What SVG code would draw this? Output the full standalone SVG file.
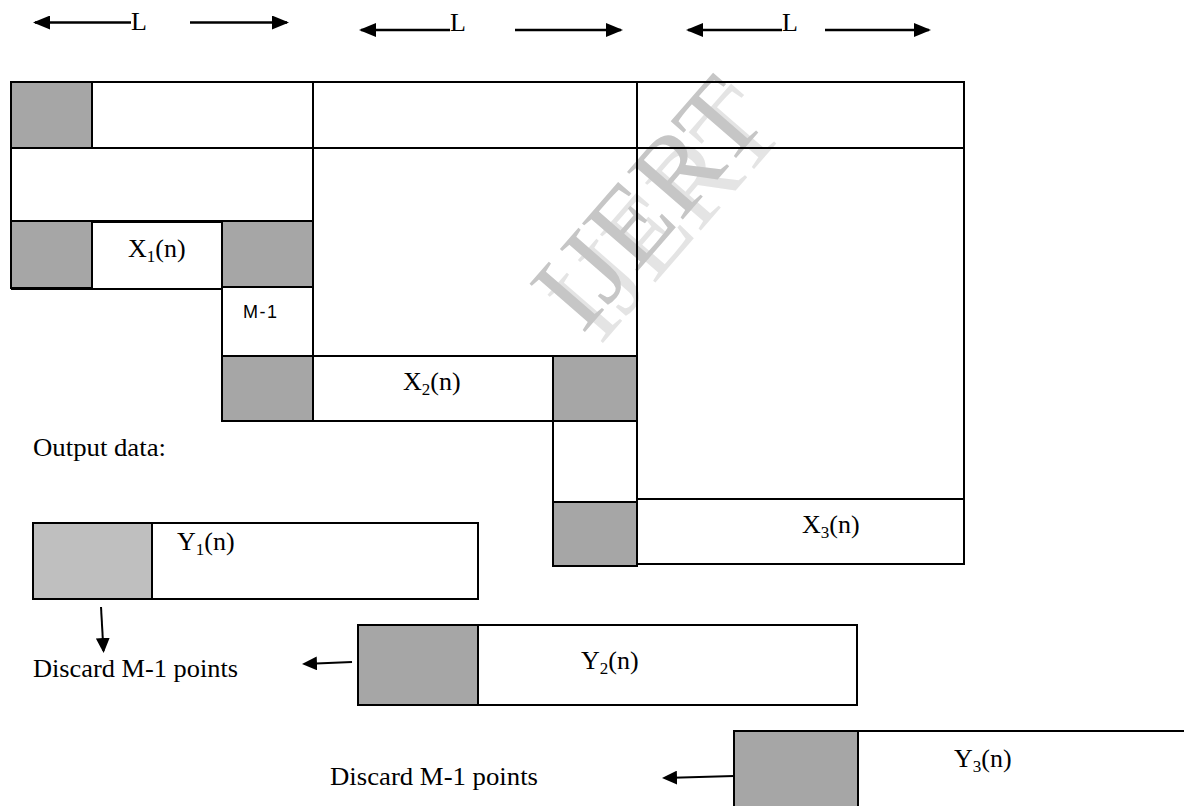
<svg xmlns="http://www.w3.org/2000/svg" width="1184" height="806" viewBox="0 0 1184 806">
<defs>
<marker id="ah" markerUnits="userSpaceOnUse" markerWidth="17" markerHeight="14" refX="15" refY="7" orient="auto"><path d="M0,0 L17,7 L0,14 Z" fill="#000"/></marker>
<marker id="ahs" markerUnits="userSpaceOnUse" markerWidth="15" markerHeight="14" refX="13" refY="7" orient="auto"><path d="M0,0 L15,7 L0,14 Z" fill="#000"/></marker>
</defs>
<style>
.ln{stroke:#000;stroke-width:2;fill:none}
.w{fill:none;stroke:#000;stroke-width:2}
.g{fill:#a6a6a6;stroke:#000;stroke-width:2}
.gl{fill:#bfbfbf;stroke:#000;stroke-width:2}
.ar{stroke:#000;stroke-width:2.5;fill:none}
.ars{stroke:#000;stroke-width:2;fill:none}
.t{font-family:"Liberation Serif","Times New Roman",serif;font-size:26px;fill:#000}
.sub{font-size:17px}
.s{font-family:"Liberation Sans",Arial,sans-serif;font-size:18px;fill:#000;letter-spacing:1.5px}
.wm{font-family:"Liberation Serif","Times New Roman",serif;font-size:112px}
</style>
<rect x="0" y="0" width="1184" height="806" fill="#fff"/>

<g id="watermark">
<text class="wm" transform="translate(666,214) rotate(-49)" x="0" y="37" text-anchor="middle" fill="#e4e4e4">IJERT</text>
<text class="wm" transform="translate(648,203) rotate(-49)" x="0" y="37" text-anchor="middle" fill="#c6c6c6">IJERT</text>
</g>

<g id="length-labels">
<text class="t" x="131" y="30">L</text>
<text class="t" x="450" y="31">L</text>
<text class="t" x="782" y="31">L</text>
</g>

<g id="top-row">
<rect class="w" x="11" y="82" width="953" height="66"/>
<rect class="g" x="11" y="82" width="81" height="66"/>
</g>

<g id="block-x1">
<line class="ln" x1="11" y1="148" x2="11" y2="289"/>
<line class="ln" x1="11" y1="221" x2="313" y2="221"/>
<rect class="g" x="11" y="221" width="81" height="67"/>
<rect class="w" x="92" y="222" width="130" height="67"/>
<rect class="g" x="222" y="221" width="91" height="66"/>
<line class="ln" x1="11" y1="289" x2="222" y2="289"/>
<text class="t" x="128" y="257">X<tspan class="sub" dy="5">1</tspan><tspan dy="-5">(n)</tspan></text>
</g>

<g id="block-m1">
<rect class="w" x="222" y="287" width="91" height="69"/>
<text class="s" x="243" y="318">M-1</text>
</g>

<g id="block-x2">
<line class="ln" x1="313" y1="82" x2="313" y2="421"/>
<line class="ln" x1="222" y1="356" x2="637" y2="356"/>
<rect class="g" x="222" y="356" width="91" height="65"/>
<rect class="w" x="313" y="356" width="240" height="65"/>
<rect class="g" x="553" y="356" width="84" height="65"/>
<line class="ln" x1="222" y1="421" x2="553" y2="421"/>
<text class="t" x="403" y="390">X<tspan class="sub" dy="5">2</tspan><tspan dy="-5">(n)</tspan></text>
</g>

<g id="block-gap">
<rect class="w" x="553" y="421" width="84" height="81"/>
</g>

<g id="block-x3">
<line class="ln" x1="637" y1="82" x2="637" y2="566"/>
<line class="ln" x1="964" y1="82" x2="964" y2="564"/>
<line class="ln" x1="637" y1="499" x2="964" y2="499"/>
<rect class="g" x="553" y="502" width="84" height="64"/>
<rect class="w" x="637" y="499" width="327" height="65"/>
<text class="t" x="802" y="533">X<tspan class="sub" dy="5">3</tspan><tspan dy="-5">(n)</tspan></text>
</g>

<g id="output-label">
<text class="t" x="33" y="456" textLength="133" lengthAdjust="spacingAndGlyphs">Output data:</text>
</g>

<g id="block-y1">
<rect class="w" x="33" y="523" width="445" height="76"/>
<rect class="gl" x="33" y="523" width="119" height="76"/>
<text class="t" x="177" y="550">Y<tspan class="sub" dy="5">1</tspan><tspan dy="-5">(n)</tspan></text>
</g>

<g id="block-y2">
<rect class="w" x="358" y="625" width="499" height="80"/>
<rect class="g" x="358" y="625" width="120" height="80"/>
<text class="t" x="581" y="669">Y<tspan class="sub" dy="5">2</tspan><tspan dy="-5">(n)</tspan></text>
</g>

<g id="block-y3">
<line class="ln" x1="734" y1="731" x2="1184" y2="731"/>
<rect class="g" x="734" y="731" width="124" height="80"/>
<text class="t" x="954" y="767">Y<tspan class="sub" dy="5">3</tspan><tspan dy="-5">(n)</tspan></text>
</g>

<g id="discard-labels">
<text class="t" x="33" y="677" textLength="205" lengthAdjust="spacingAndGlyphs">Discard M-1 points</text>
<text class="t" x="330" y="785" textLength="208" lengthAdjust="spacingAndGlyphs">Discard M-1 points</text>
</g>

<g id="connectors">
<line class="ar" x1="131" y1="22.5" x2="35" y2="22.5" marker-end="url(#ah)"/>
<line class="ar" x1="190" y1="22.5" x2="287" y2="22.5" marker-end="url(#ah)"/>
<line class="ar" x1="450" y1="30" x2="361" y2="30" marker-end="url(#ah)"/>
<line class="ar" x1="515" y1="30" x2="621" y2="30" marker-end="url(#ah)"/>
<line class="ar" x1="782" y1="30" x2="688" y2="30" marker-end="url(#ah)"/>
<line class="ar" x1="825" y1="30" x2="929" y2="30" marker-end="url(#ah)"/>
<line class="ars" x1="101" y1="607" x2="103.5" y2="651" marker-end="url(#ahs)"/>
<line class="ars" x1="352" y1="662" x2="304" y2="664" marker-end="url(#ahs)"/>
<line class="ars" x1="734" y1="776" x2="664" y2="778" marker-end="url(#ahs)"/>
</g>
</svg>
